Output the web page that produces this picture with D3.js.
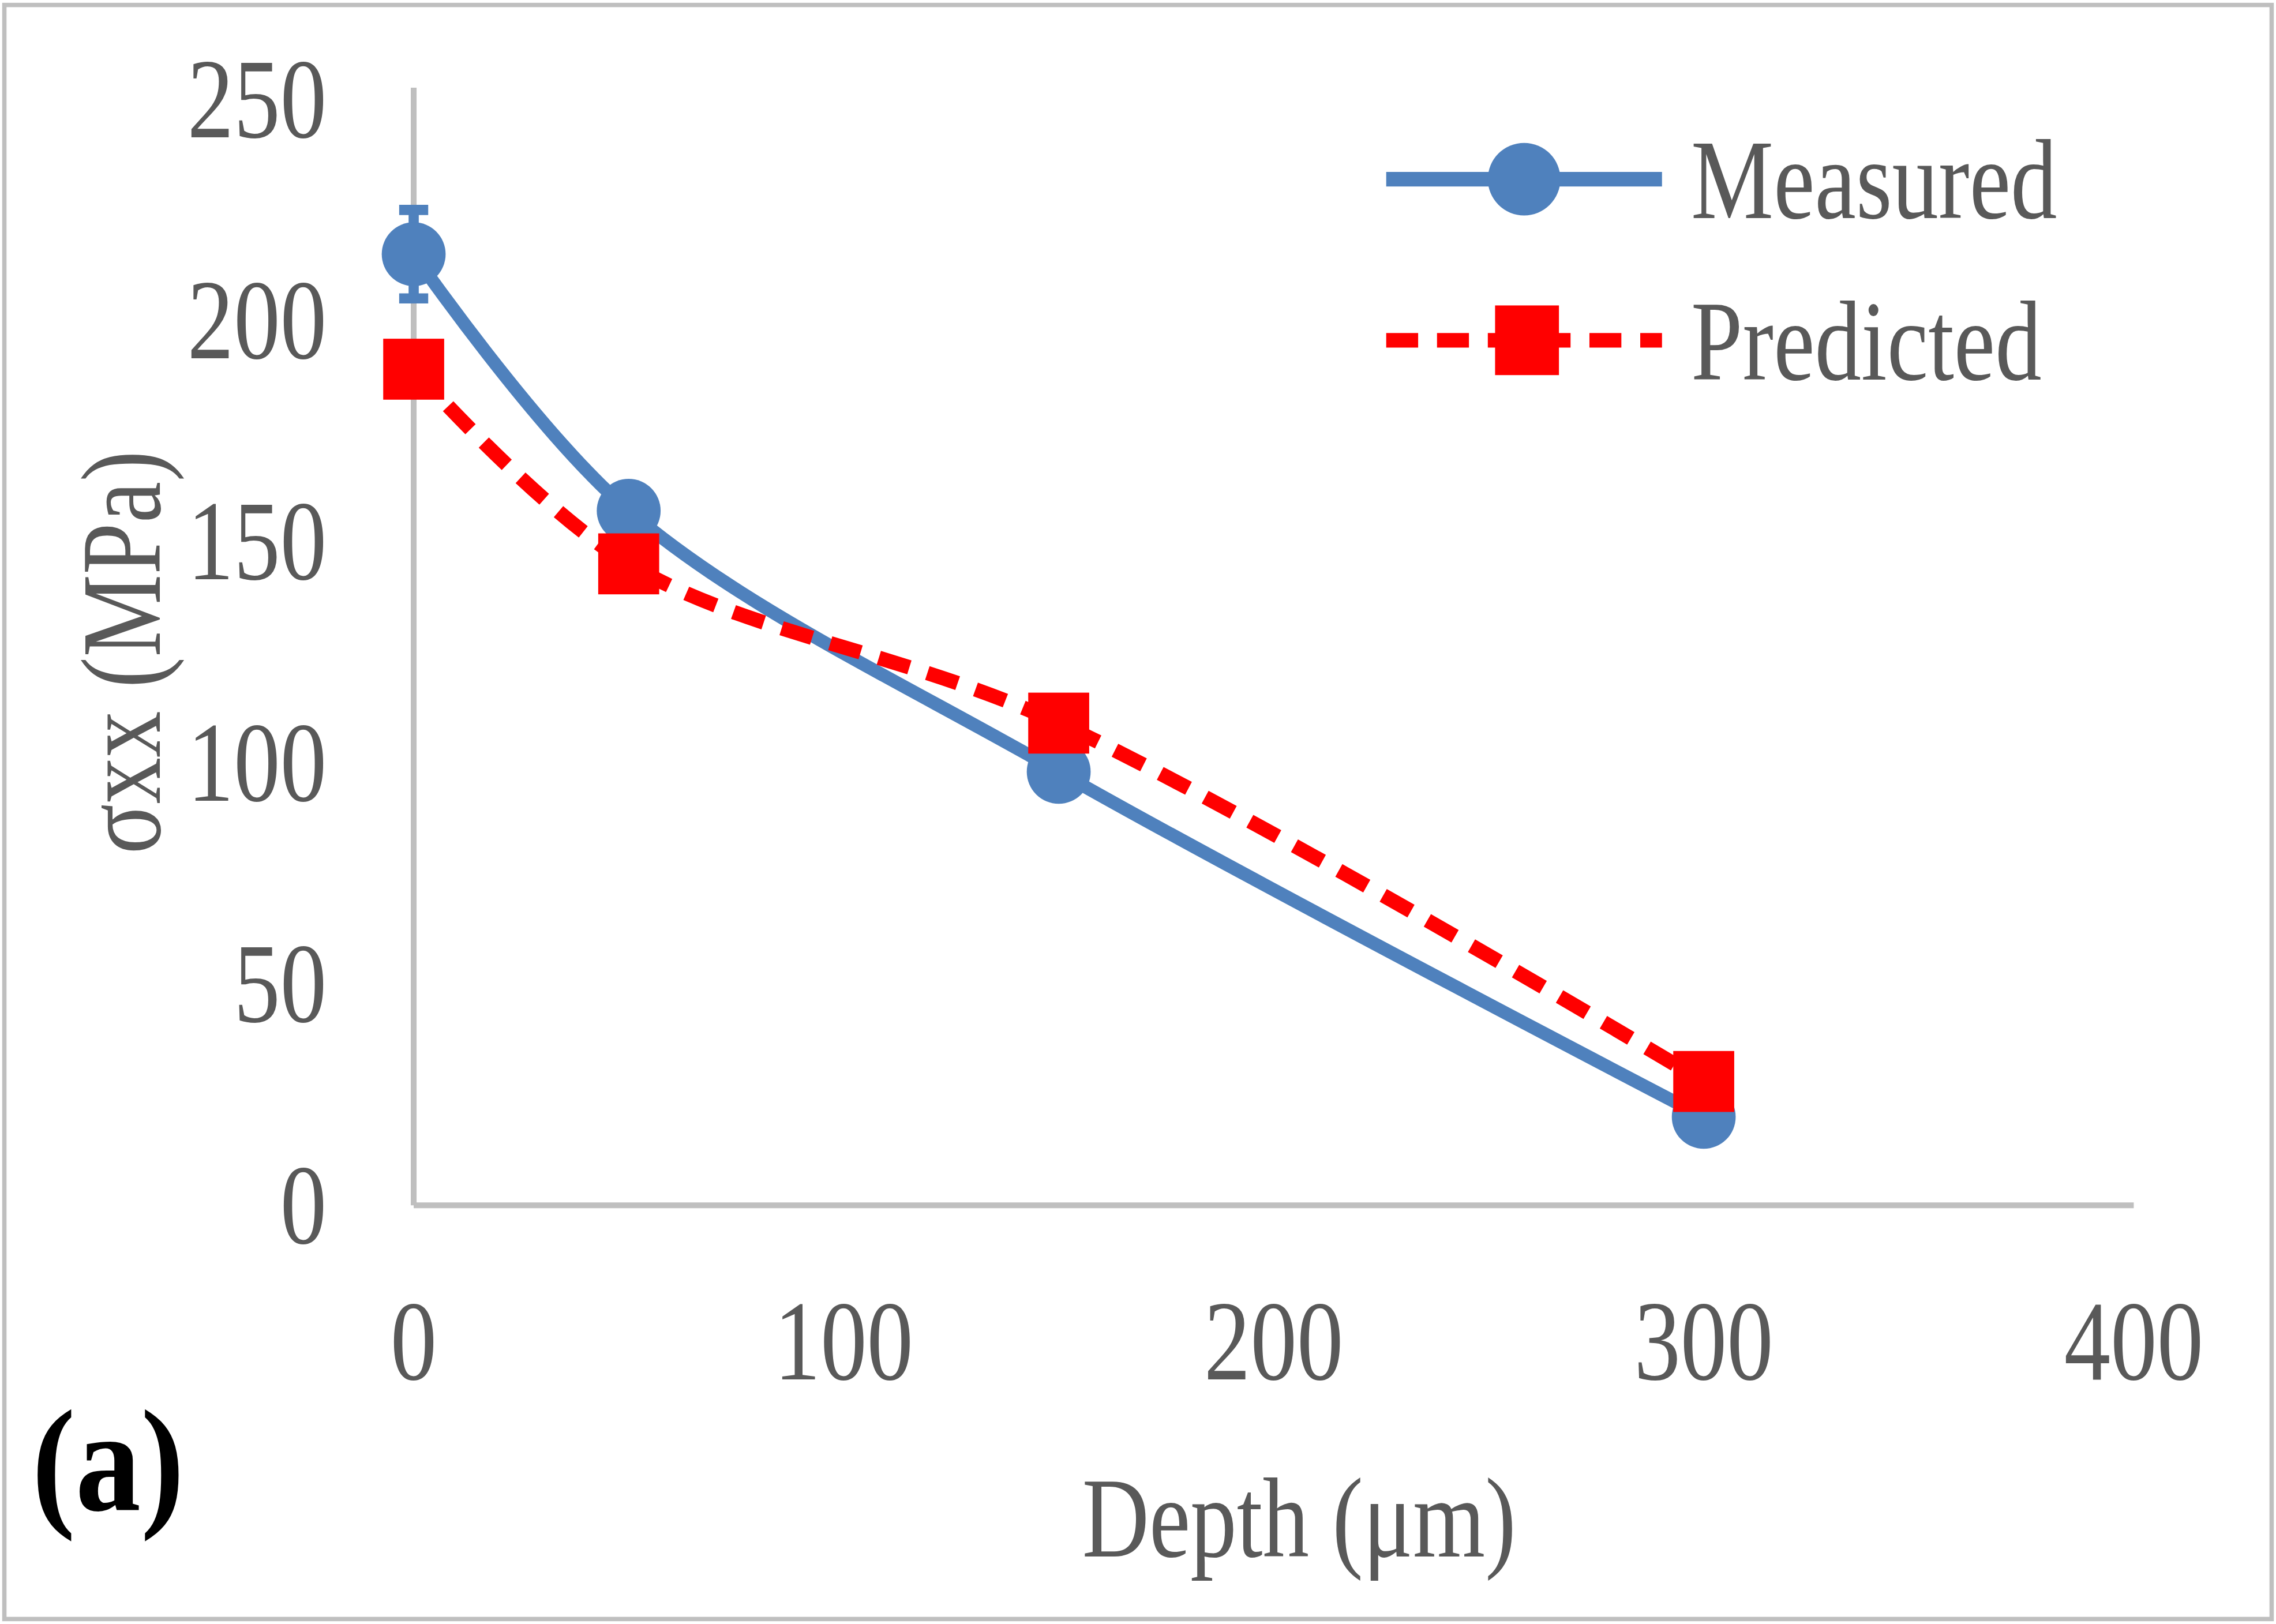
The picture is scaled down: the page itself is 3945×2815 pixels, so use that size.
<!DOCTYPE html>
<html>
<head>
<meta charset="utf-8">
<script src="https://d3js.org/d3.v7.min.js"></script>
<style>body{margin:0;background:#fff;} text{font-family:"Liberation Serif",serif;fill:#595959;}</style>
</head>
<body>
<div class="plot"></div>
<script>
const depth = [0, 50, 150, 300];
const measured = [215, 157, 98, 20];
const measuredErr = [10, 3, 2, 2];
const predicted = [189, 145, 109, 28];
const xTicks = [0, 100, 200, 300, 400];
const yTicks = [0, 50, 100, 150, 200, 250];

const W = 1568, H = 1118;
const svg = d3.select('.plot').append('svg')
    .attr('width', 3945).attr('height', 2815)
    .attr('viewBox', `0 0 ${W} ${H}`);

svg.append('rect').attr('x', 3).attr('y', 3).attr('width', W - 6).attr('height', H - 6)
    .attr('fill', 'white').attr('stroke', '#bfbfbf').attr('stroke-width', 3);

const x = d3.scaleLinear().domain([0, 400]).range([285, 1470]);
const y = d3.scaleLinear().domain([0, 250]).range([830, 68]);

// axes lines
svg.append('line').attr('x1', x(0)).attr('x2', x(400)).attr('y1', y(0)).attr('y2', y(0))
    .attr('stroke', '#bfbfbf').attr('stroke-width', 4);
svg.append('line').attr('x1', x(0)).attr('x2', x(0)).attr('y1', y(0)).attr('y2', 60)
    .attr('stroke', '#bfbfbf').attr('stroke-width', 4);

function label(t, px, py, size, anchor) {
    const g = svg.append('g').attr('transform', `translate(${px},${py}) scale(0.82,1)`);
    return g.append('text').attr('text-anchor', anchor).attr('font-size', size).text(t);
}
xTicks.forEach(v => label(v, x(v), 950, 78, 'middle'));
yTicks.forEach(v => label(v, 225, y(v) + 26, 78, 'end'));

label('Depth (\u03bcm)', 895, 1072, 78, 'middle');
svg.append('g').attr('transform', `translate(110,${y(125)}) rotate(-90) scale(0.82,1)`)
    .append('text').attr('text-anchor', 'middle').attr('font-size', 78).text('\u03c3xx  (MPa)');
svg.append('g').attr('transform', 'translate(22,1040) scale(0.9,1)')
    .append('text').attr('font-size', 100).attr('font-weight', 'bold').style('fill', '#000').text('(a)');

const line = d3.line().curve(d3.curveCatmullRom.alpha(0.5))
    .x(d => x(d[0])).y(d => y(d[1]));
const mData = depth.map((d, i) => [d, measured[i]]);
const pData = depth.map((d, i) => [d, predicted[i]]);

const blue = '#4f81bd', red = '#ff0000';
// error bars
depth.forEach((d, i) => {
    const g = svg.append('g').attr('stroke', blue).attr('stroke-width', 7);
    g.append('line').attr('x1', x(d)).attr('x2', x(d)).attr('y1', y(measured[i] - measuredErr[i])).attr('y2', y(measured[i] + measuredErr[i]));
    [-1, 1].forEach(s => g.append('line').attr('x1', x(d) - 10).attr('x2', x(d) + 10)
        .attr('y1', y(measured[i] + s * measuredErr[i])).attr('y2', y(measured[i] + s * measuredErr[i])));
});

svg.append('path').attr('d', line(mData)).attr('fill', 'none').attr('stroke', blue).attr('stroke-width', 9);
svg.selectAll('.m').data(mData).enter().append('circle')
    .attr('cx', d => x(d[0])).attr('cy', d => y(d[1])).attr('r', 22).attr('fill', blue);

svg.append('path').attr('d', line(pData)).attr('fill', 'none').attr('stroke', red)
    .attr('stroke-width', 10).attr('stroke-dasharray', '22,13');
svg.selectAll('.p').data(pData).enter().append('rect')
    .attr('x', d => x(d[0]) - 21).attr('y', d => y(d[1]) - 21).attr('width', 42).attr('height', 42).attr('fill', red);

// legend
svg.append('line').attr('x1', 955).attr('x2', 1145).attr('y1', 123).attr('y2', 123).attr('stroke', blue).attr('stroke-width', 10);
svg.append('circle').attr('cx', 1050).attr('cy', 123).attr('r', 25).attr('fill', blue);
label('Measured', 1165, 150, 78, 'start');
svg.append('line').attr('x1', 955).attr('x2', 1145).attr('y1', 234).attr('y2', 234).attr('stroke', red)
    .attr('stroke-width', 10).attr('stroke-dasharray', '22,13');
svg.append('rect').attr('x', 1030).attr('y', 210).attr('width', 44).attr('height', 48).attr('fill', red);
label('Predicted', 1165, 261, 78, 'start');
</script>
</body>
</html>
